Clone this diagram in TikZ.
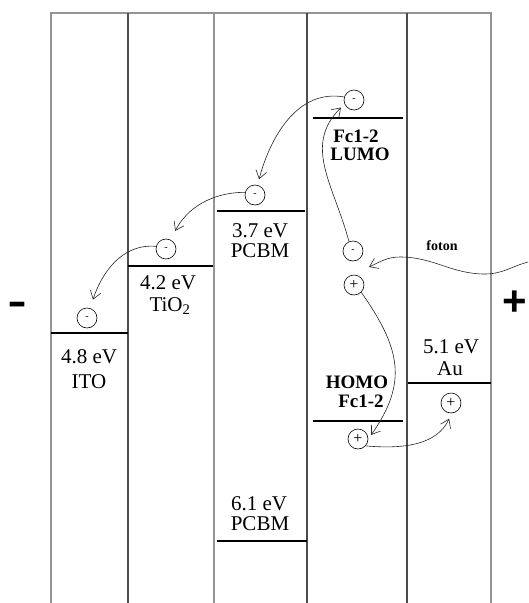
\documentclass[tikz,border=0pt]{standalone}
\usepackage{fontspec}
\setmainfont{Liberation Serif}
\newfontfamily\signfont{Liberation Sans}
\usetikzlibrary{arrows.meta}
\begin{document}
\begin{tikzpicture}[x=1pt,y=1pt,
  darkwall/.style={line width=1.8pt, draw=black!70},
  lightwall/.style={line width=1.3pt, draw=black!42},
  level/.style={line width=1.6pt, draw=black},
  lab/.style={font=\fontsize{21}{21}\selectfont, anchor=base, inner sep=0pt},
  blab/.style={font=\fontsize{19}{19}\selectfont\bfseries, anchor=base, inner sep=0pt},
  carrier/.style={circle, draw, line width=0.6pt, minimum size=20pt, inner sep=0pt},
  flow/.style={line width=0.6pt, draw=black!85, -{Straight Barb[length=8pt,width=11pt]}},
]
\useasboundingbox (0,0) rectangle (528,-603);
% walls
\draw[lightwall] (51,-603) -- (51,-13) -- (491,-13) -- (491,-603);
\draw[lightwall] (214,-13) -- (214,-603);
\draw[darkwall] (128,-13) -- (128,-603);
\draw[darkwall] (307,-13) -- (307,-603);
\draw[darkwall] (407,-13) -- (407,-603);
% energy levels
\draw[level] (51,-333) -- (128,-333);
\draw[level] (128,-266) -- (213,-266);
\draw[level] (217,-211) -- (305,-211);
\draw[level] (217,-541) -- (307,-541);
\draw[level] (313,-118) -- (403,-118);
\draw[level] (313,-421) -- (403,-421);
\draw[level] (408,-383) -- (491,-383);
% labels
\node[lab] (ito1) at (89,-363) {4.8 eV};
\node[lab] (ito2) at (89,-388) {ITO};
\node[lab] (tio1) at (168,-289) {4.2 eV};
\node[lab] (tio2) at (170,-311) {TiO\textsubscript{2}};
\node[lab] (pcbm1) at (260,-237) {3.7 eV};
\node[lab] (pcbm2) at (260,-257) {PCBM};
\node[lab] (pcbmh1) at (259,-510) {6.1 eV};
\node[lab] (pcbmh2) at (260,-530) {PCBM};
\node[lab] (au1) at (451,-353) {5.1 eV};
\node[lab] (au2) at (450,-375) {Au};
\node[blab] (lumo1) at (356,-142) {Fc1-2};
\node[blab] (lumo2) at (360,-160) {LUMO};
\node[blab] (homo1) at (357,-388) {HOMO};
\node[blab] (homo2) at (361,-407) {Fc1-2};
\node[font=\fontsize{14}{14}\selectfont\bfseries, anchor=base, inner sep=0pt] (foton) at (442,-250) {foton};
% electrode signs
\node[font=\signfont\fontsize{60}{60}\selectfont, anchor=base, inner sep=0pt] (neg) at (17,-320) {-};
\node[font=\signfont\bfseries\fontsize{42}{42}\selectfont, anchor=base, inner sep=0pt] (pos) at (515,-315) {+};
% carriers
\node[carrier] (eito) at (87,-318) {\fontsize{10}{10}\selectfont -};
\node[carrier] (etio) at (166,-249) {\fontsize{10}{10}\selectfont -};
\node[carrier] (epcbm) at (255,-195) {\fontsize{10}{10}\selectfont -};
\node[carrier] (elumo) at (354,-100) {\fontsize{10}{10}\selectfont -};
\node[carrier] (eex) at (353,-251) {\fontsize{10}{10}\selectfont -};
\node[carrier] (hex) at (354,-285) {\fontsize{16}{16}\selectfont +};
\node[carrier] (hhomo) at (358,-439) {\fontsize{16}{16}\selectfont +};
\node[carrier] (hau) at (451,-403) {\fontsize{16}{16}\selectfont +};
% transfers
\draw[flow, shorten >=6pt] (elumo.163) to[out=170,in=75] (epcbm.76);
\draw[flow, shorten >=10pt] (epcbm.165) to[out=180,in=63] (etio.63);
\draw[flow, shorten >=9pt] (etio.165) to[out=175,in=72] (eito.72);
\draw[flow, shorten >=5pt] (eex.113) to[out=105,in=225,looseness=1.1] (elumo.203);
\draw[flow, shorten >=5pt] (hex.-45) to[out=-55,in=55,looseness=1.2] (hhomo.0);
\draw[flow, shorten >=6pt] (hhomo.-42) to[out=-5,in=245] (hau.-86);
% photon
\coordinate (fotsrc) at (528,-262);
\coordinate (fothit) at (369,-267);
\draw[flow] (fotsrc) to[out=195,in=0] (485,-274) to[out=180,in=0] (400,-257) to[out=180,in=25] (fothit);
\end{tikzpicture}
\end{document}
